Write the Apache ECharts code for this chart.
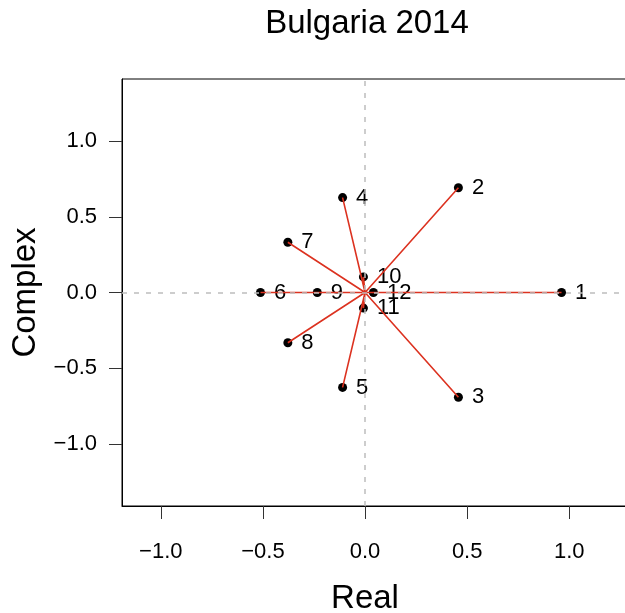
<!DOCTYPE html>
<html>
<head>
<meta charset="utf-8">
<script src="https://cdn.jsdelivr.net/npm/echarts@6/dist/echarts.min.js"></script>
<style>html,body{margin:0;padding:0;background:#fff}#c{width:625px;height:613px}</style>
</head>
<body>
<div id="c"></div>
<script>
const labels = ['1','2','3','4','5','6','7','8','9','10','11','12'];
const realParts = [0.962, 0.457, 0.457, -0.110, -0.110, -0.512, -0.378, -0.378, -0.234, -0.008, -0.008, 0.041];
const imagParts = [0, 0.692, -0.692, 0.627, -0.627, 0, 0.332, -0.332, 0, 0.103, -0.103, 0];
const tickValues = [-1, -0.5, 0, 0.5, 1];
const titleText = 'Bulgaria 2014';

const font = 'Liberation Sans, Arial, Helvetica, sans-serif';
const fmt = v => v.toFixed(1).replace('-', '\u2212');

const points = labels.map((n, i) => ({ name: n, value: [realParts[i], imagParts[i]] }));
const spokes = [];
labels.forEach((n, i) => { spokes.push([0, 0]); spokes.push([realParts[i], imagParts[i]]); });

const chart = echarts.init(document.getElementById('c'), null, { renderer: 'canvas' });
chart.setOption({
  animation: false,
  backgroundColor: '#fff',
  title: {
    text: titleText, left: 367, top: 7, padding: 0, textAlign: 'center',
    textStyle: { fontFamily: font, fontSize: 33, fontWeight: 'normal', color: '#000' }
  },
  grid: { left: 122, right: -26, top: 79, bottom: 107, outerBoundsMode: 'none', containLabel: false, show: true, borderColor: '#000', borderWidth: 1, backgroundColor: 'transparent' },
  xAxis: {
    type: 'value', min: -1.19, max: 1.4,
    name: 'Real', nameLocation: 'middle', nameGap: 76,
    nameTextStyle: { fontFamily: font, fontSize: 33, color: '#000', padding: [0, 43, 0, 0] },
    axisLine: { show: true, onZero: false, lineStyle: { color: '#000', width: 1 } },
    axisTick: { show: true, length: 13, customValues: tickValues, lineStyle: { color: '#333', width: 1 } },
    axisLabel: { customValues: tickValues, formatter: fmt, margin: 35, fontFamily: font, fontSize: 22, color: '#000' },
    splitLine: { show: false }
  },
  yAxis: {
    type: 'value', min: -1.41, max: 1.41,
    name: 'Complex', nameLocation: 'middle', nameGap: 80, nameRotate: 90,
    nameTextStyle: { fontFamily: font, fontSize: 33, color: '#000' },
    axisLine: { show: true, onZero: false, lineStyle: { color: '#000', width: 1 } },
    axisTick: { show: true, length: 13, customValues: tickValues, lineStyle: { color: '#333', width: 1 } },
    axisLabel: { customValues: tickValues, formatter: fmt, margin: 25, fontFamily: font, fontSize: 22, color: '#000' },
    splitLine: { show: false }
  },
  series: [
    {
      type: 'scatter', data: points, symbol: 'circle', symbolSize: 9, z: 3,
      itemStyle: { color: '#000', opacity: 1 },
      label: { show: true, position: 'right', distance: 9, formatter: p => p.name, fontFamily: font, fontSize: 22, color: '#000' },
      markLine: {
        silent: true, symbol: ['none', 'none'], label: { show: false },
        lineStyle: { color: '#bdbdbd', type: [5, 7], width: 1.5 },
        data: [{ xAxis: 0 }, { yAxis: 0 }]
      }
    },
    {
      type: 'line', data: spokes, symbol: 'none', z: 4,
      lineStyle: { color: '#dc3220', width: 1.6 }
    }
  ]
});
</script>
</body>
</html>
